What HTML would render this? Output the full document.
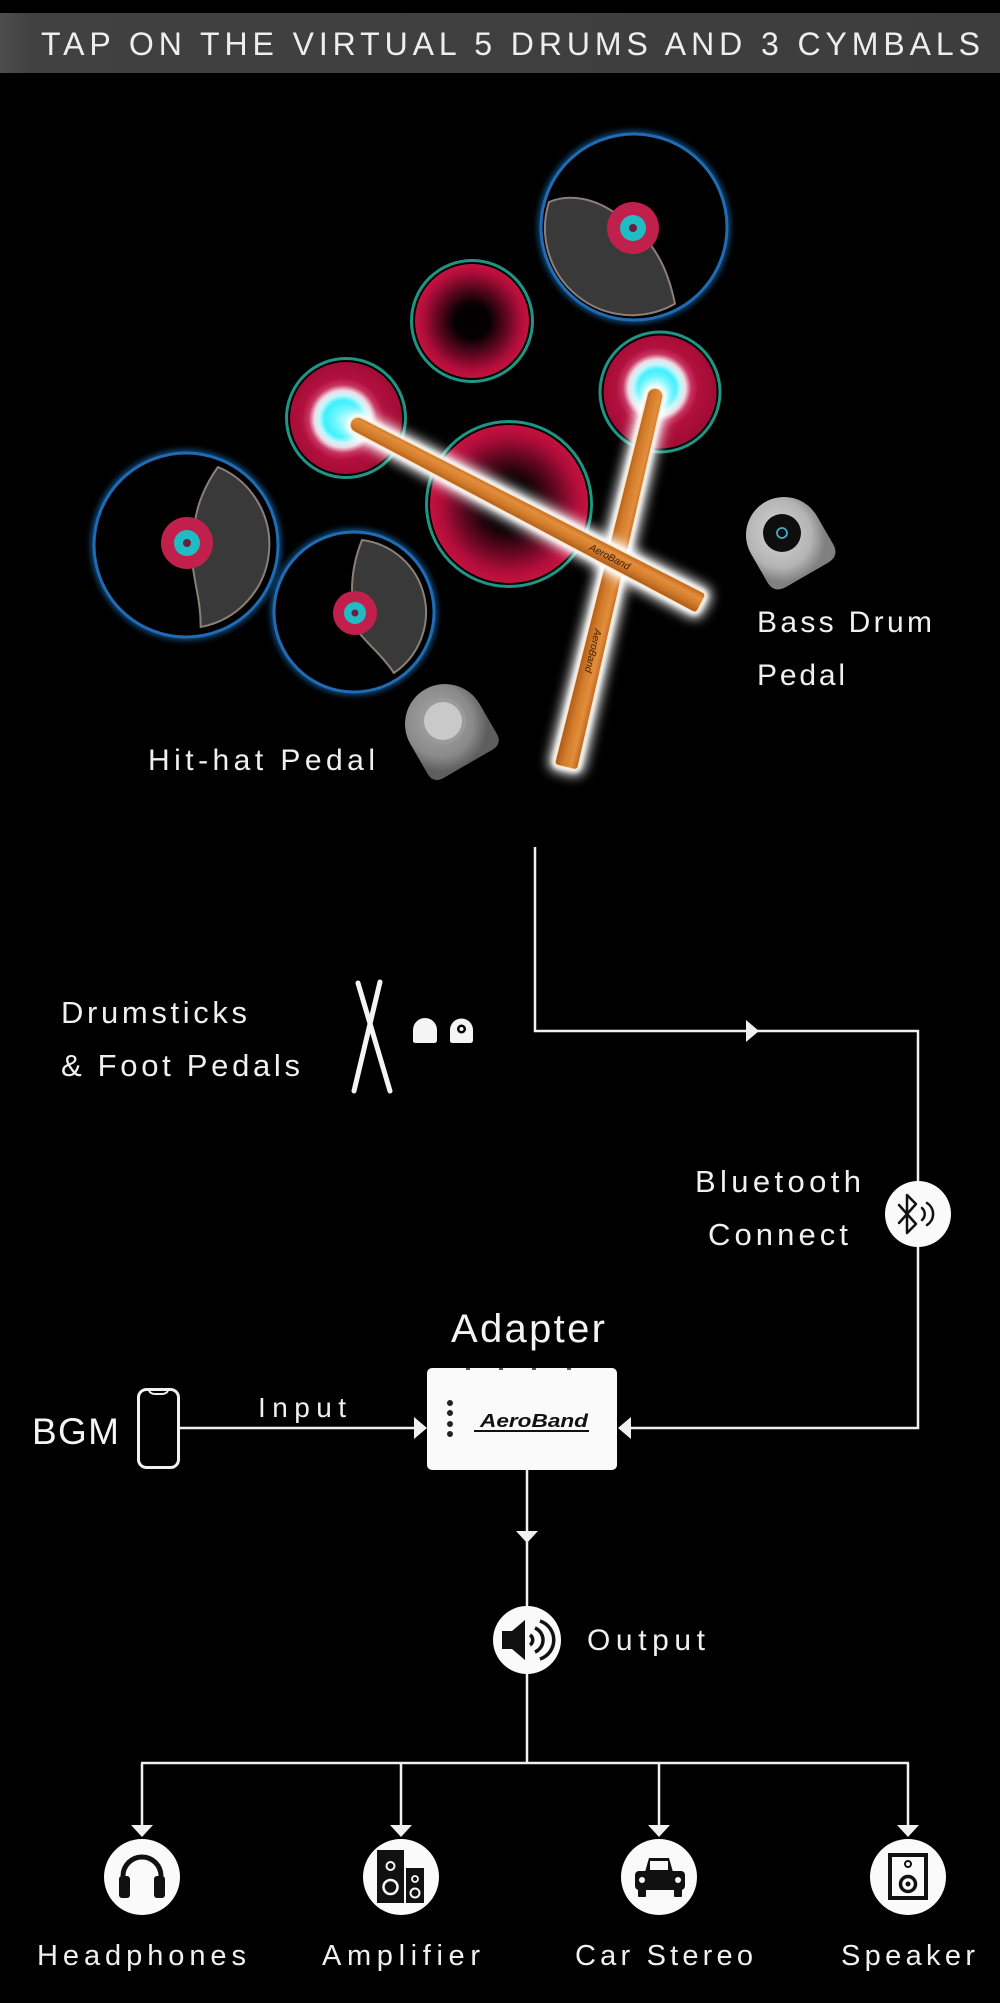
<!DOCTYPE html>
<html><head><meta charset="utf-8">
<style>
html,body{margin:0;padding:0;background:#000;}
svg{display:block;}
text{font-family:"Liberation Sans", sans-serif;}
</style></head>
<body>
<svg width="1000" height="2003" viewBox="0 0 1000 2003" xmlns="http://www.w3.org/2000/svg">
<defs>
  <linearGradient id="hdr" x1="0" y1="0" x2="1" y2="0">
    <stop offset="0" stop-color="#4e4e4e"/>
    <stop offset="0.03" stop-color="#414141"/>
    <stop offset="1" stop-color="#3d3d3d"/>
  </linearGradient>
  <radialGradient id="redDrum" cx="50%" cy="50%" r="50%">
    <stop offset="0" stop-color="#000"/>
    <stop offset="0.3" stop-color="#050002"/>
    <stop offset="0.62" stop-color="#640721"/>
    <stop offset="0.86" stop-color="#b00d3a"/>
    <stop offset="1" stop-color="#c4123f"/>
  </radialGradient>
  <radialGradient id="hitL" gradientUnits="userSpaceOnUse" cx="343" cy="419" r="57">
    <stop offset="0" stop-color="#8ffaff"/>
    <stop offset="0.32" stop-color="#3ef0ff"/>
    <stop offset="0.42" stop-color="#c6f7fb"/>
    <stop offset="0.5" stop-color="#f0dce4"/>
    <stop offset="0.6" stop-color="#c83462"/>
    <stop offset="0.72" stop-color="#b2103d"/>
    <stop offset="1" stop-color="#a30c36"/>
  </radialGradient>
  <radialGradient id="hitR" gradientUnits="userSpaceOnUse" cx="657" cy="388" r="57">
    <stop offset="0" stop-color="#8ffaff"/>
    <stop offset="0.32" stop-color="#3ef0ff"/>
    <stop offset="0.42" stop-color="#c6f7fb"/>
    <stop offset="0.5" stop-color="#f0dce4"/>
    <stop offset="0.6" stop-color="#c83462"/>
    <stop offset="0.72" stop-color="#b2103d"/>
    <stop offset="1" stop-color="#a30c36"/>
  </radialGradient>
  <linearGradient id="wood" x1="0" y1="0" x2="0" y2="1">
    <stop offset="0" stop-color="#b9621d"/>
    <stop offset="0.3" stop-color="#e28e3c"/>
    <stop offset="0.6" stop-color="#d47d2c"/>
    <stop offset="1" stop-color="#a85818"/>
  </linearGradient>
  <radialGradient id="hhPedal" cx="45%" cy="40%" r="60%">
    <stop offset="0" stop-color="#a8a8a8"/>
    <stop offset="0.7" stop-color="#8a8a8a"/>
    <stop offset="1" stop-color="#5e5e5e"/>
  </radialGradient>
  <radialGradient id="bdPedal" cx="45%" cy="40%" r="60%">
    <stop offset="0" stop-color="#d4d4d4"/>
    <stop offset="0.7" stop-color="#b4b4b4"/>
    <stop offset="1" stop-color="#808080"/>
  </radialGradient>
  <filter id="glow" x="-50%" y="-50%" width="200%" height="200%">
    <feGaussianBlur stdDeviation="6"/>
  </filter>
  <filter id="glow2" x="-50%" y="-50%" width="200%" height="200%">
    <feGaussianBlur stdDeviation="2.5"/>
  </filter>
  <filter id="b3" x="-50%" y="-50%" width="200%" height="200%">
    <feGaussianBlur stdDeviation="3"/>
  </filter>
</defs>

<rect width="1000" height="2003" fill="#000"/>

<!-- Header -->
<rect x="0" y="13" width="1000" height="60" fill="url(#hdr)"/>
<text x="41" y="55" font-size="32" fill="#eeeeee" textLength="939" lengthAdjust="spacing">TAP ON THE VIRTUAL 5 DRUMS AND 3 CYMBALS</text>

<!-- Cymbals -->
<g>
  <circle cx="634" cy="227" r="93" fill="none" stroke="#1b8ae6" stroke-width="7" opacity="0.55" filter="url(#b3)"/>
  <circle cx="634" cy="227" r="93" fill="#000" stroke="#1f6cb5" stroke-width="3"/>
  <path d="M549,202 C570,193 595,199 615,213 L645,238 C660,255 669,275 675,303.8 A87,87 0 0 1 549,202 Z" fill="#393939" stroke="#8c7f78" stroke-width="2" stroke-linejoin="round"/>
  <circle cx="633" cy="228" r="26" fill="#c2204c"/>
  <circle cx="633" cy="228" r="13" fill="#1fbcc4"/>
  <circle cx="633" cy="228" r="4" fill="#6b1e3a"/>
</g>
<g>
  <circle cx="186" cy="545" r="92" fill="none" stroke="#1b8ae6" stroke-width="7" opacity="0.55" filter="url(#b3)"/>
  <circle cx="186" cy="545" r="92" fill="#000" stroke="#1f6cb5" stroke-width="3"/>
  <path d="M218,467 C205,485 197,505 195,522 L193,568 C196,590 201,605 200.6,627 A84,84 0 0 0 218,467 Z" fill="#393939" stroke="#8c7f78" stroke-width="2" stroke-linejoin="round"/>
  <circle cx="187" cy="543" r="26" fill="#c2204c"/>
  <circle cx="187" cy="543" r="13" fill="#1fbcc4"/>
  <circle cx="187" cy="543" r="4" fill="#6b1e3a"/>
</g>
<g>
  <circle cx="354" cy="612" r="80" fill="none" stroke="#1b8ae6" stroke-width="7" opacity="0.55" filter="url(#b3)"/>
  <circle cx="354" cy="612" r="80" fill="#000" stroke="#1f6cb5" stroke-width="3"/>
  <path d="M362,540 C356,555 352,572 352,590 L360,634 C372,648 386,660 393.8,673 A73,73 0 0 0 362,540 Z" fill="#393939" stroke="#8c7f78" stroke-width="2" stroke-linejoin="round"/>
  <circle cx="355" cy="613" r="22" fill="#c2204c"/>
  <circle cx="355" cy="613" r="11" fill="#1fbcc4"/>
  <circle cx="355" cy="613" r="3.5" fill="#6b1e3a"/>
</g>

<!-- Drums -->
<circle cx="472" cy="321" r="60.5" fill="none" stroke="#1f9585" stroke-width="3"/>
<circle cx="472" cy="321" r="57" fill="url(#redDrum)"/>

<circle cx="509" cy="504" r="82.5" fill="none" stroke="#1f9585" stroke-width="3"/>
<circle cx="509" cy="504" r="79" fill="url(#redDrum)"/>

<circle cx="346" cy="418" r="59.5" fill="none" stroke="#1f9585" stroke-width="3"/>
<circle cx="346" cy="418" r="56" fill="url(#hitL)"/>

<circle cx="660" cy="392" r="60" fill="none" stroke="#1f9585" stroke-width="3"/>
<circle cx="660" cy="392" r="56.5" fill="url(#hitR)"/>

<!-- Pedals -->
<g transform="translate(445,724) rotate(-30)">
  <path d="M-40,0 A40,40 0 0 1 40,0 L40,34 Q40,46 28,46 L-28,46 Q-40,46 -40,34 Z" fill="url(#hhPedal)"/>
</g>
<circle cx="443" cy="721" r="23" fill="#9a9a9a"/>
<circle cx="443" cy="721" r="19" fill="#c9c9c9"/>

<g transform="translate(784,535) rotate(-30)">
  <path d="M-38,0 A38,38 0 0 1 38,0 L38,32 Q38,46 24,46 L-24,46 Q-38,46 -38,32 Z" fill="url(#bdPedal)"/>
</g>
<circle cx="782" cy="533" r="19" fill="#0e0e0e"/>
<circle cx="782" cy="533" r="5" fill="none" stroke="#4aa8c8" stroke-width="1.8"/>

<!-- Stick B (under) -->
<g filter="url(#glow)">
  <path transform="translate(655,396) rotate(103.5)" d="M0,-8 L378,-12 Q382,-12 382,-8 L382,8 Q382,12 378,12 L0,8 A8,8 0 0 1 0,-8 Z" fill="#fff" stroke="#fff" stroke-width="12"/>
</g>
<g filter="url(#glow2)">
  <path transform="translate(655,396) rotate(103.5)" d="M0,-8 L378,-12 Q382,-12 382,-8 L382,8 Q382,12 378,12 L0,8 A8,8 0 0 1 0,-8 Z" fill="#fff" stroke="#fff" stroke-width="5"/>
</g>
<path transform="translate(655,396) rotate(103.5)" d="M0,-8 L378,-12 Q382,-12 382,-8 L382,8 Q382,12 378,12 L0,8 A8,8 0 0 1 0,-8 Z" fill="url(#wood)" stroke="#fbe7cc" stroke-width="1.5"/>
<text transform="translate(655,396) rotate(103.5)" x="240" y="4" font-size="10" font-style="italic" fill="#3b1d05">AeroBand</text>

<!-- Stick A (over) -->
<g filter="url(#glow)">
  <path transform="translate(358,425) rotate(27.5)" d="M0,-8 L383,-11 Q387,-11 387,-7 L387,7 Q387,11 383,11 L0,8 A8,8 0 0 1 0,-8 Z" fill="#fff" stroke="#fff" stroke-width="12"/>
</g>
<g filter="url(#glow2)">
  <path transform="translate(358,425) rotate(27.5)" d="M0,-8 L383,-11 Q387,-11 387,-7 L387,7 Q387,11 383,11 L0,8 A8,8 0 0 1 0,-8 Z" fill="#fff" stroke="#fff" stroke-width="5"/>
</g>
<path transform="translate(358,425) rotate(27.5)" d="M0,-8 L383,-11 Q387,-11 387,-7 L387,7 Q387,11 383,11 L0,8 A8,8 0 0 1 0,-8 Z" fill="url(#wood)" stroke="#fbe7cc" stroke-width="1.5"/>
<text transform="translate(358,425) rotate(27.5)" x="262" y="4" font-size="10" font-style="italic" fill="#3b1d05">AeroBand</text>

<!-- Top labels -->
<text x="148" y="770" font-size="30" fill="#f0f0f0" textLength="227" lengthAdjust="spacing">Hit-hat Pedal</text>
<text x="757" y="632" font-size="30" fill="#f0f0f0" textLength="175" lengthAdjust="spacing">Bass Drum</text>
<text x="757" y="685" font-size="30" fill="#f0f0f0" textLength="88" lengthAdjust="spacing">Pedal</text>

<!-- Drumsticks & foot pedals -->
<text x="61" y="1023" font-size="31" fill="#f0f0f0" textLength="186" lengthAdjust="spacing">Drumsticks</text>
<text x="61" y="1076" font-size="31" fill="#f0f0f0" textLength="239" lengthAdjust="spacing">&amp; Foot Pedals</text>
<g stroke="#f4f4f4" stroke-width="5" stroke-linecap="round">
  <line x1="358" y1="983" x2="390" y2="1091"/>
  <line x1="380" y1="982" x2="354" y2="1091"/>
</g>
<path d="M413,1041 L413,1030 A12,12 0 0 1 437,1030 L437,1040 Q437,1043 434,1043 L416,1043 Q413,1043 413,1041 Z" fill="#f4f4f4"/>
<path d="M450,1041 L450,1030 A11.5,11.5 0 0 1 473,1030 L473,1040 Q473,1043 470,1043 L453,1043 Q450,1043 450,1041 Z" fill="#f4f4f4"/>
<circle cx="461.5" cy="1029" r="4.5" fill="#000"/>
<circle cx="461.5" cy="1029" r="2" fill="#f4f4f4"/>

<!-- Connectors -->
<g stroke="#f0f0f0" stroke-width="2.5" fill="none">
  <polyline points="535,847 535,1031 918,1031 918,1428 630,1428"/>
  <line x1="179" y1="1428" x2="415" y2="1428"/>
  <line x1="527" y1="1470" x2="527" y2="1606"/>
  <line x1="527" y1="1674" x2="527" y2="1763"/>
  <line x1="141" y1="1763" x2="909" y2="1763"/>
  <line x1="142" y1="1763" x2="142" y2="1826"/>
  <line x1="401" y1="1763" x2="401" y2="1826"/>
  <line x1="659" y1="1763" x2="659" y2="1826"/>
  <line x1="908" y1="1763" x2="908" y2="1826"/>
</g>
<g fill="#f0f0f0">
  <polygon points="746,1020 759,1031 746,1042"/>
  <polygon points="414,1417 427,1428 414,1439"/>
  <polygon points="631,1417 618,1428 631,1439"/>
  <polygon points="516,1531 538,1531 527,1543"/>
  <polygon points="131,1825 153,1825 142,1837"/>
  <polygon points="390,1825 412,1825 401,1837"/>
  <polygon points="648,1825 670,1825 659,1837"/>
  <polygon points="897,1825 919,1825 908,1837"/>
</g>

<!-- Bluetooth -->
<text x="695" y="1192" font-size="31" fill="#f0f0f0" textLength="166" lengthAdjust="spacing">Bluetooth</text>
<text x="708" y="1245" font-size="31" fill="#f0f0f0" textLength="140" lengthAdjust="spacing">Connect</text>
<circle cx="918" cy="1214" r="33" fill="#fafafa"/>
<g stroke="#111" stroke-width="2.5" fill="none" stroke-linejoin="round" stroke-linecap="round">
  <path d="M899,1205 L916,1224 L907,1233 L907,1195 L916,1204 L899,1223"/>
  <path d="M922,1208 A8,8 0 0 1 922,1220"/>
  <path d="M927,1203 A13,13 0 0 1 927,1225"/>
</g>

<!-- Adapter -->
<text x="451" y="1342" font-size="40" fill="#f4f4f4" textLength="154" lengthAdjust="spacing">Adapter</text>
<rect x="427" y="1368" width="190" height="102" rx="5" fill="#fafafa"/>
<g fill="#555">
  <rect x="466" y="1368" width="4" height="2"/>
  <rect x="499" y="1368" width="4" height="2"/>
  <rect x="532" y="1368" width="4" height="2"/>
  <rect x="567" y="1368" width="4" height="2"/>
</g>
<g fill="#222">
  <circle cx="450" cy="1403" r="3"/>
  <circle cx="450" cy="1413" r="3"/>
  <circle cx="450" cy="1424" r="3"/>
  <circle cx="450" cy="1434" r="3"/>
</g>
<text x="480" y="1427" font-size="18" font-style="italic" font-weight="bold" fill="#111" textLength="108" lengthAdjust="spacingAndGlyphs">AeroBand</text>
<line x1="474" y1="1431" x2="589" y2="1431" stroke="#111" stroke-width="2"/>

<!-- BGM -->
<text x="32" y="1444" font-size="37" fill="#f4f4f4" textLength="87" lengthAdjust="spacing">BGM</text>
<rect x="138.5" y="1389.5" width="40" height="78" rx="8" fill="none" stroke="#f0f0f0" stroke-width="3"/>
<path d="M149,1391 Q151,1394 155,1394 L162,1394 Q166,1394 168,1391" fill="none" stroke="#f0f0f0" stroke-width="2"/>
<text x="258" y="1417" font-size="28" fill="#f0f0f0" textLength="88" lengthAdjust="spacing">Input</text>

<!-- Output -->
<circle cx="527" cy="1640" r="34" fill="#fafafa"/>
<path d="M502,1631 L512,1631 L525,1620 L525,1660 L512,1649 L502,1649 Z" fill="#111"/>
<g stroke="#111" stroke-width="3.5" fill="none">
  <path d="M530,1635 A6,6 0 0 1 530,1645"/>
  <path d="M535,1628 A13,13 0 0 1 535,1652"/>
  <path d="M540,1621 A20,20 0 0 1 540,1659"/>
</g>
<text x="587" y="1650" font-size="30" fill="#f0f0f0" textLength="118" lengthAdjust="spacing">Output</text>

<!-- Output devices -->
<circle cx="142" cy="1877" r="38" fill="#fafafa"/>
<circle cx="401" cy="1877" r="38" fill="#fafafa"/>
<circle cx="659" cy="1877" r="38" fill="#fafafa"/>
<circle cx="908" cy="1877" r="38" fill="#fafafa"/>

<!-- headphones -->
<path d="M123,1888 L123,1876 A19,19 0 0 1 161,1876 L161,1888" fill="none" stroke="#111" stroke-width="5"/>
<rect x="119" y="1876" width="11" height="22" rx="3" fill="#111"/>
<rect x="154" y="1876" width="11" height="22" rx="3" fill="#111"/>

<!-- amplifier -->
<rect x="377" y="1850" width="27" height="53" fill="#111"/>
<rect x="406" y="1868" width="18" height="35" fill="#111"/>
<circle cx="390.5" cy="1866" r="4" fill="none" stroke="#fafafa" stroke-width="2"/>
<circle cx="390.5" cy="1887" r="7" fill="none" stroke="#fafafa" stroke-width="2.5"/>
<circle cx="415" cy="1879" r="3" fill="none" stroke="#fafafa" stroke-width="1.8"/>
<circle cx="415" cy="1893" r="4.5" fill="none" stroke="#fafafa" stroke-width="2"/>

<!-- car -->
<path d="M645,1872 L649,1858 L669,1858 L673,1872 Z" fill="#111"/>
<rect x="650" y="1861" width="18" height="9" fill="#fafafa"/>
<rect x="635" y="1871" width="50" height="19" rx="4" fill="#111"/>
<circle cx="642" cy="1880" r="3" fill="#fafafa"/>
<circle cx="678" cy="1880" r="3" fill="#fafafa"/>
<rect x="638" y="1889" width="8" height="8" rx="1" fill="#111"/>
<rect x="674" y="1889" width="8" height="8" rx="1" fill="#111"/>

<!-- speaker -->
<rect x="890" y="1855" width="36" height="43" fill="none" stroke="#111" stroke-width="4"/>
<circle cx="908" cy="1864" r="3" fill="none" stroke="#111" stroke-width="2"/>
<circle cx="908" cy="1884" r="7.5" fill="none" stroke="#111" stroke-width="3.5"/>
<circle cx="908" cy="1884" r="2.5" fill="#111"/>

<text x="37" y="1965" font-size="29" fill="#f0f0f0" textLength="209" lengthAdjust="spacing">Headphones</text>
<text x="322" y="1965" font-size="29" fill="#f0f0f0" textLength="158" lengthAdjust="spacing">Amplifier</text>
<text x="575" y="1965" font-size="29" fill="#f0f0f0" textLength="178" lengthAdjust="spacing">Car Stereo</text>
<text x="841" y="1965" font-size="29" fill="#f0f0f0" textLength="134" lengthAdjust="spacing">Speaker</text>
</svg>
</body></html>
